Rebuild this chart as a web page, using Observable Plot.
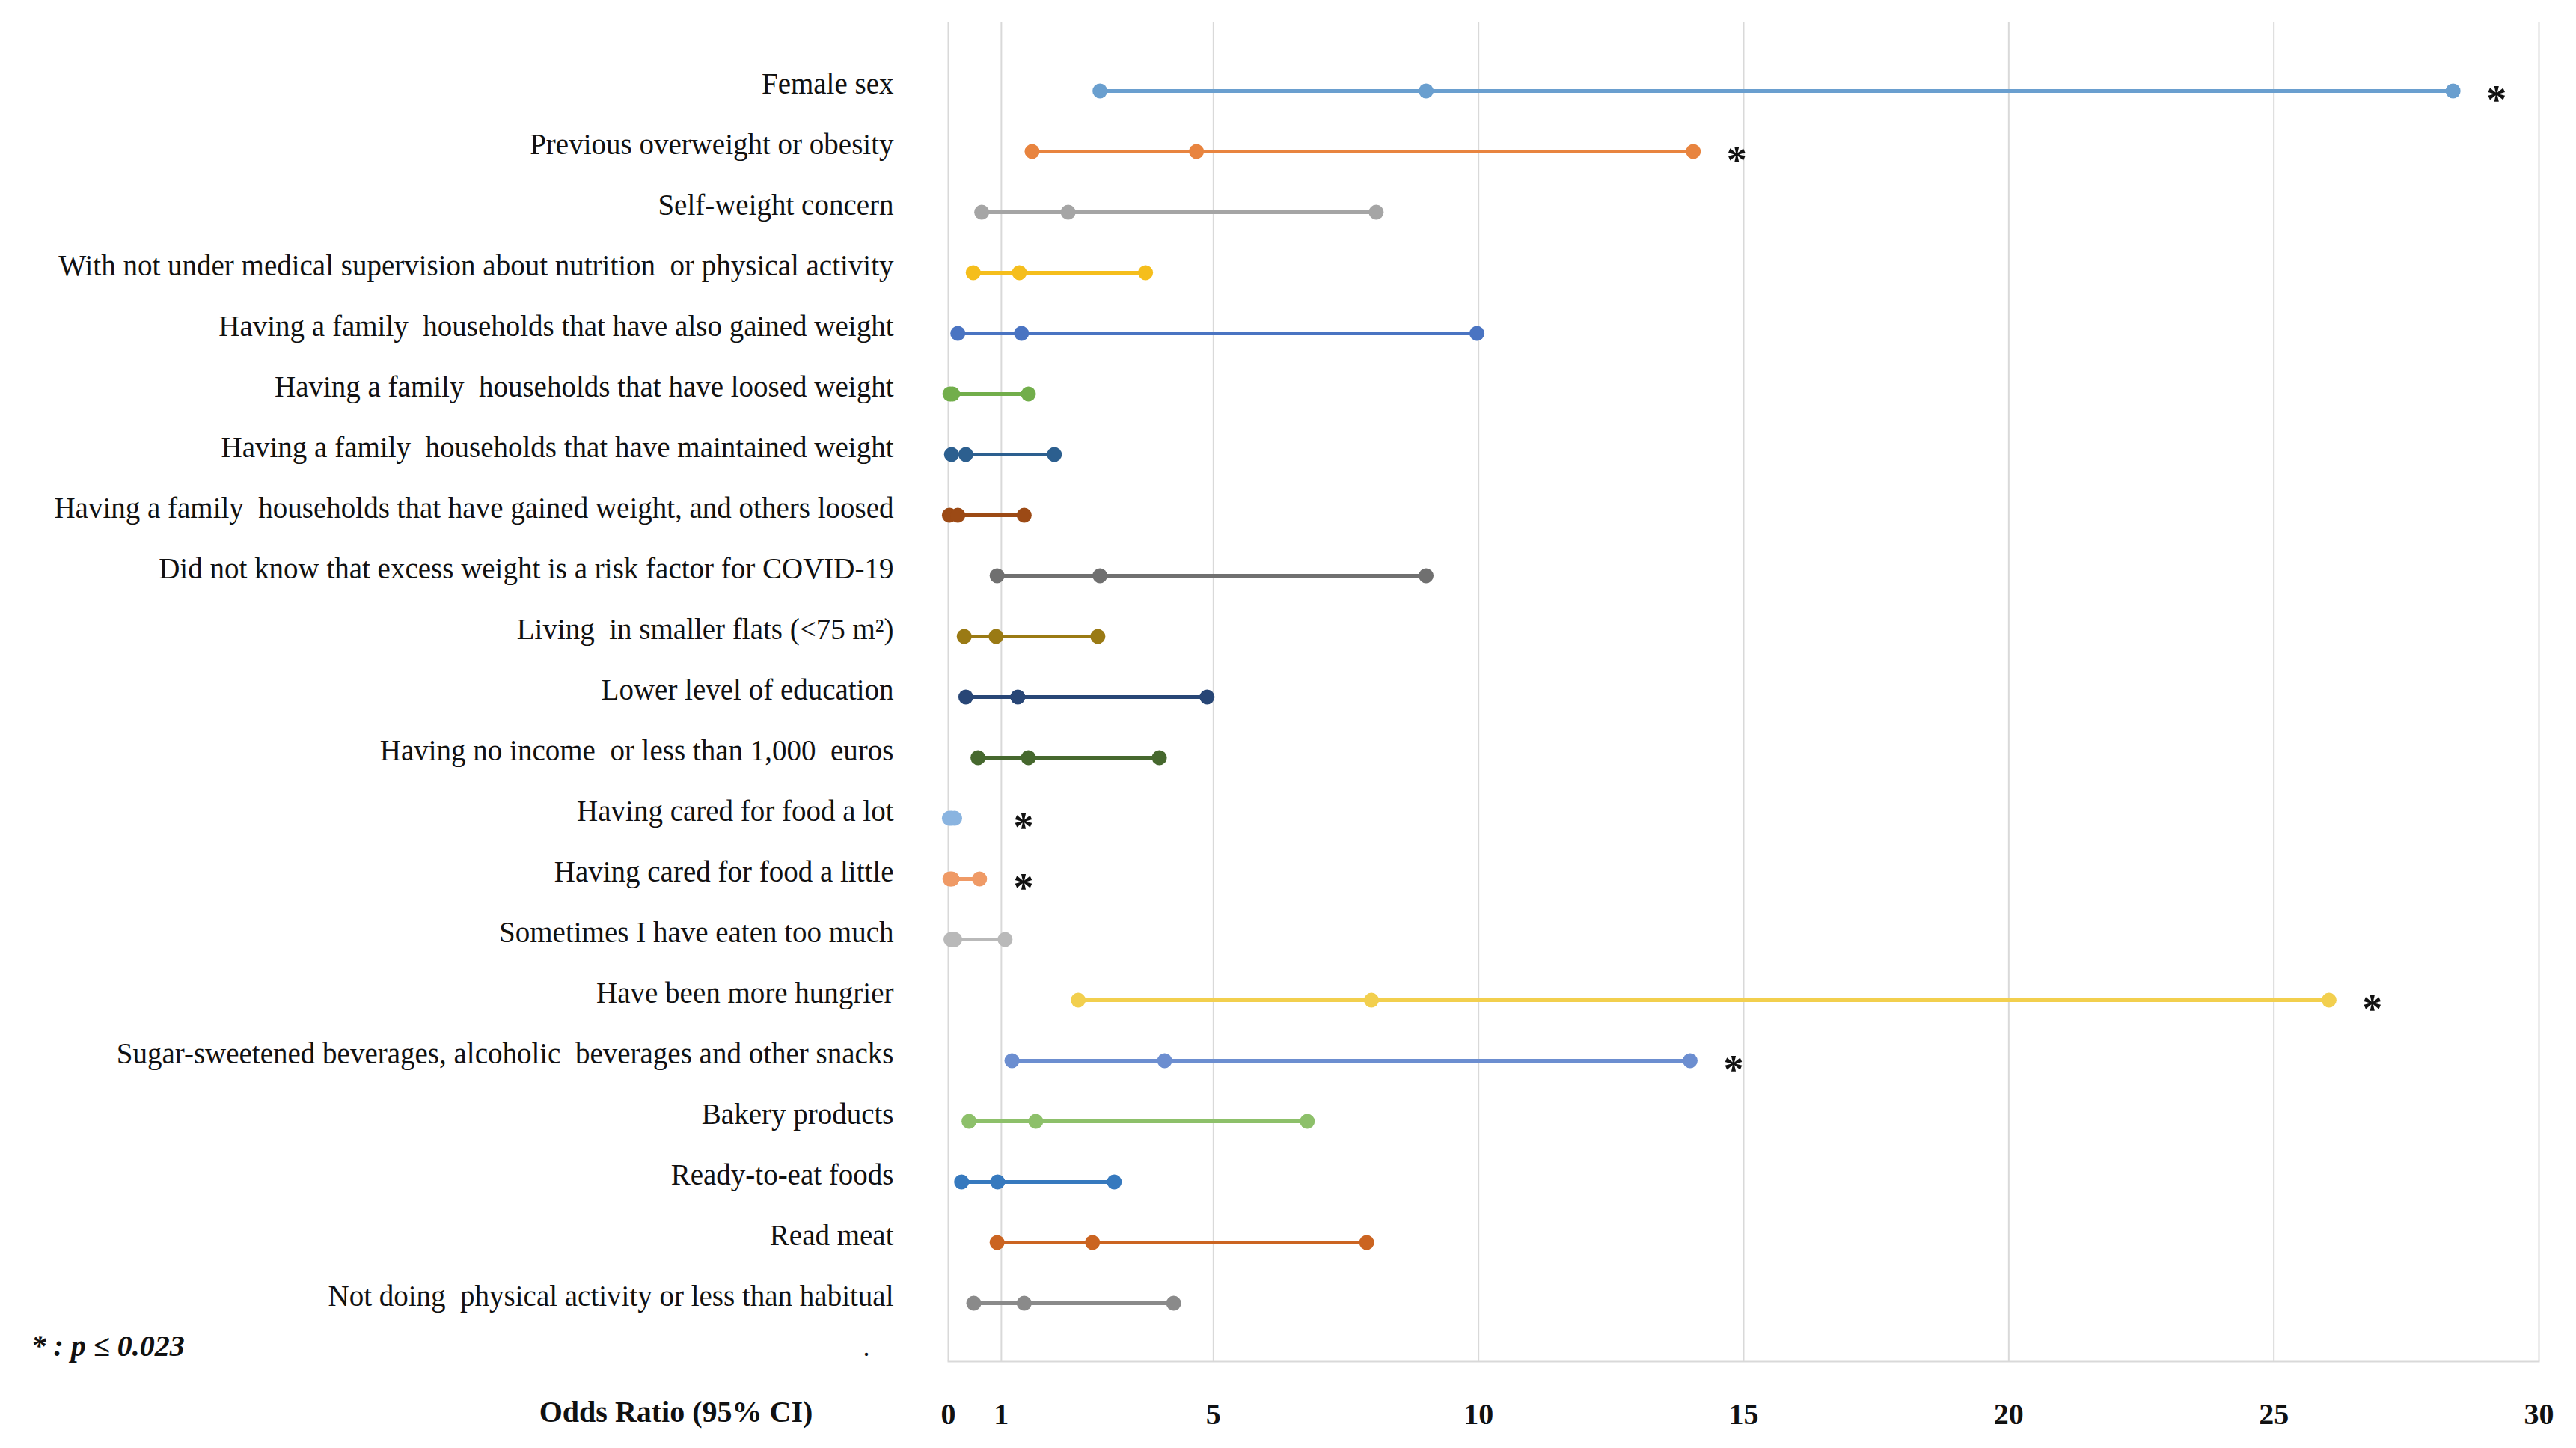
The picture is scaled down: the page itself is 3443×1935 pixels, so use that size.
<!DOCTYPE html>
<html>
<head>
<meta charset="utf-8">
<script src="https://cdn.jsdelivr.net/npm/d3@7"></script>
<script src="https://cdn.jsdelivr.net/npm/@observablehq/plot@0.6"></script>
<style>
  html, body { margin: 0; padding: 0; background: #fff; }
  #chart svg { display: block; }
</style>
</head>
<body>
<div id="chart"></div>
<script>
const labels = [
  "Female sex",
  "Previous overweight or obesity",
  "Self-weight concern",
  "With not under medical supervision about nutrition  or physical activity",
  "Having a family  households that have also gained weight",
  "Having a family  households that have loosed weight",
  "Having a family  households that have maintained weight",
  "Having a family  households that have gained weight, and others loosed",
  "Did not know that excess weight is a risk factor for COVID-19",
  "Living  in smaller flats (<75 m²)",
  "Lower level of education",
  "Having no income  or less than 1,000  euros",
  "Having cared for food a lot",
  "Having cared for food a little",
  "Sometimes I have eaten too much",
  "Have been more hungrier",
  "Sugar-sweetened beverages, alcoholic  beverages and other snacks",
  "Bakery products",
  "Ready-to-eat foods",
  "Read meat",
  "Not doing  physical activity or less than habitual"
];
const lower     = [2.86, 1.58, 0.63, 0.47, 0.18, 0.03, 0.06, 0.02, 0.92, 0.30, 0.33, 0.56, 0.02, 0.03, 0.05, 2.45, 1.20, 0.39, 0.25, 0.92, 0.48];
const oddsRatio = [9.01, 4.68, 2.26, 1.34, 1.38, 0.08, 0.33, 0.18, 2.86, 0.90, 1.31, 1.51, 0.06, 0.07, 0.12, 7.98, 4.08, 1.65, 0.93, 2.72, 1.43];
const upper     = [28.38, 14.05, 8.07, 3.72, 9.97, 1.51, 2.00, 1.43, 9.01, 2.82, 4.88, 3.98, 0.12, 0.59, 1.07, 26.04, 13.99, 6.77, 3.13, 7.89, 4.25];
const significant = [true, true, false, false, false, false, false, false, false, false, false, false, true, true, false, true, true, false, false, false, false];
const colors = [
  "#6A9FCF", "#E8843F", "#A5A5A5", "#F5BE1C", "#4A74C2", "#72AE4B", "#2C5F8F",
  "#9C4A15", "#707070", "#9A7A14", "#284676", "#46682E", "#8AB4E0", "#EF9A66",
  "#B9B9B9", "#F2CF4E", "#6C8ED0", "#8DC06A", "#3679BE", "#CB6421", "#8A8A8A"
];
const xTicks = [0, 1, 5, 10, 15, 20, 25, 30];
const xLabel = "Odds Ratio (95% CI)";
const footnote = "* : p ≤ 0.023";

const rows = labels.map((label, i) => ({
  label, lo: lower[i], or: oddsRatio[i], hi: upper[i], color: colors[i], sig: significant[i]
}));
const points = rows.flatMap(r => [r.lo, r.or, r.hi].map(v => ({label: r.label, v, color: r.color})));

const chart = Plot.plot({
  width: 3443,
  height: 1935,
  marginLeft: 1267,
  marginRight: 50,
  marginTop: 30,
  marginBottom: 116,
  style: {fontFamily: "'Liberation Serif', 'Times New Roman', serif", background: "#fff", color: "#111"},
  x: {domain: [0, 30], label: null},
  y: {type: "point", domain: labels, range: [120, 1741], padding: 0, label: null},
  color: {type: "identity"},
  marks: [
    Plot.ruleX(xTicks, {stroke: "#d9d9d9", strokeWidth: 2}),
    Plot.frame({anchor: "bottom", stroke: "#d9d9d9", strokeWidth: 2}),
    Plot.link(rows, {x1: "lo", x2: "hi", y1: "label", y2: "label", stroke: "color", strokeWidth: 5}),
    Plot.dot(points, {x: "v", y: "label", fill: "color", r: 10}),
    Plot.text(rows.filter(d => d.sig), {x: d => Math.max(d.hi, 0.6), y: "label", text: () => "*", dx: 58, dy: 12, fontSize: 54, fontWeight: "bold", fill: "#111"}),
    Plot.axisY({tickSize: 0, tickPadding: 73, fontSize: 39, dy: -9, label: null}),
    Plot.axisX({ticks: xTicks, tickSize: 0, tickPadding: 55, fontSize: 40, fontWeight: "bold", label: null}),
    Plot.text([xLabel], {frameAnchor: "bottom-left", dx: -364, dy: 80, fontSize: 40, fontWeight: "bold", textAnchor: "middle", fill: "#111"}),
    Plot.text([footnote], {frameAnchor: "bottom-left", dx: -1226, dy: -8, fontSize: 40, fontWeight: "bold", fontStyle: "italic", textAnchor: "start", fill: "#111"}),
    Plot.text(["."], {frameAnchor: "bottom-left", dx: -114, dy: -8, fontSize: 36, fill: "#111"})
  ]
});
document.getElementById("chart").appendChild(chart);
</script>
</body>
</html>
